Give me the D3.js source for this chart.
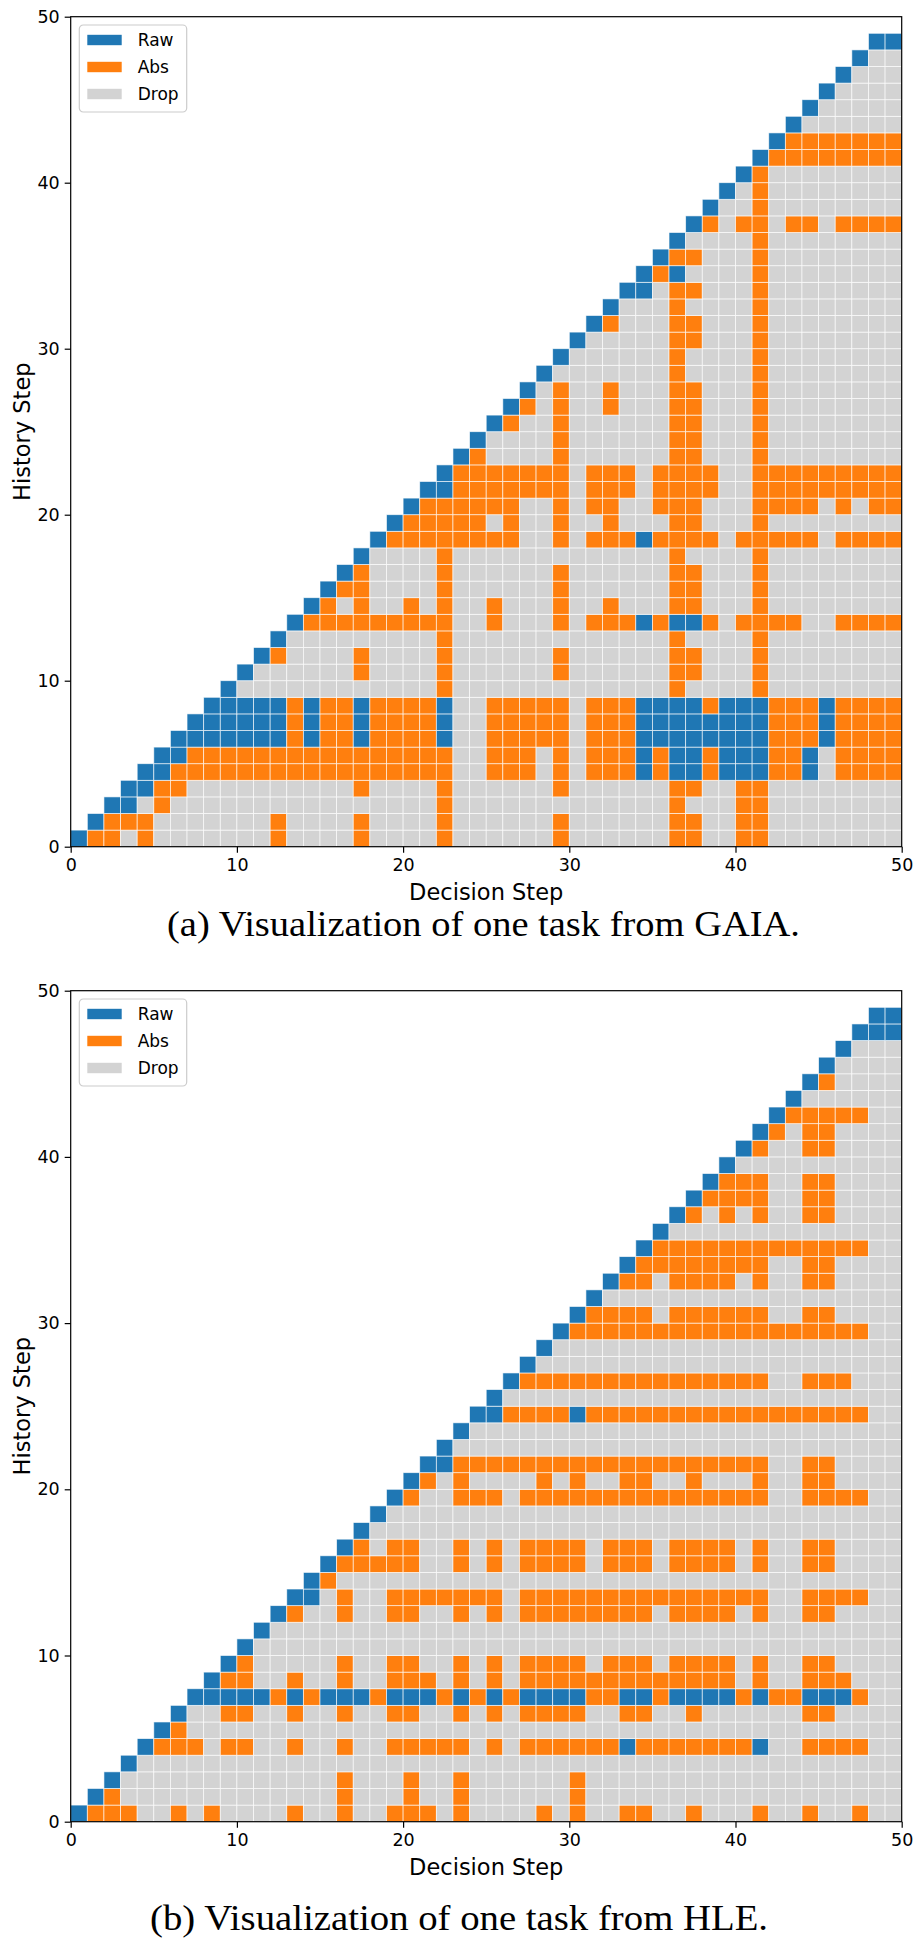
<!DOCTYPE html>
<html>
<head>
<meta charset="utf-8">
<script src="https://cdn.jsdelivr.net/npm/d3@7"></script>
<style>
body { margin: 0; background: #fff; }
</style>
</head>
<body>
<script>
const kinds = ["Raw", "Abs", "Drop"]
const kindCode = { R: "Raw", A: "Abs", D: "Drop" }
const colors = { Raw: "#1f77b4", Abs: "#ff7f0e", Drop: "#d3d3d3" }
const ticks = [0, 10, 20, 30, 40, 50]
const captions = ["(a) Visualization of one task from GAIA.", "(b) Visualization of one task from HLE."]

// one string per history step (row 0 at the bottom), one char per decision step 0..49
// R = Raw, A = Abs, D = Drop, . = no cell
const gaiaRows = [
    "RAADADDDDD DDADDDDADD DDADDDDDDA DDDDDDAADD AADDDDDDDD",
    ".RAAADDDDD DDADDDDADD DDADDDDDDA DDDDDDAADD AADDDDDDDD",
    "..RRDADDDD DDDDDDDDDD DDADDDDDDD DDDDDDADDD AADDDDDDDD",
    "...RRAADDD DDDDDDDADD DDADDDDDDA DDDDDDAADD AADDDDDDDD",
    "....RRAAAA AAAAAAAAAA AAADDAAADA DAAARARRAR RRAARDAAAA",
    ".....RRAAA AAAAAAAAAA AAADDAAADA DAAARARRAR RRAARDAAAA",
    "......RRRR RRRARAARAA AARDDAAAAA DAAARRRRRR RRAAARAAAA",
    ".......RRR RRRARAARAA AARDDAAAAA DAAARRRRRR RRAAARAAAA",
    "........RR RRRARAARAA AARDDAAAAA DAAARRRRAR RRAAARAAAA",
    ".........R DDDDDDDDDD DDADDDDDDD DDDDDDADDD DADDDDDDDD",
    ".......... RDDDDDDADD DDADDDDDDA DDDDDDAADD DADDDDDDDD",
    ".......... .RADDDDADD DDADDDDDDA DDDDDDAADD DADDDDDDDD",
    ".......... ..RDDDDDDD DDADDDDDDD DDDDDDADDD DADDDDDDDD",
    ".......... ...RAAAAAA AAADDADDDA DAAARARRAD AAAADDAAAA",
    ".......... ....RADADD ADADDADDDA DDADDDAADD DADDDDDDDD",
    ".......... .....RAADD DDADDDDDDA DDDDDDAADD DADDDDDDDD",
    ".......... ......RADD DDADDDDDDA DDDDDDAADD DADDDDDDDD",
    ".......... .......RDD DDADDDDDDD DDDDDDADDD DADDDDDDDD",
    ".......... ........RA AAAAAAADDA DAAARAAAAD AAAAADAAAA",
    ".......... .........R AAAAADADDA DDADDDAADD DADDDDDDDD",
    ".......... .......... RAAAAAADDA DAADDAAADD DAAAADADAA",
    ".......... .......... .RRAAAAAAA DAAADAAAAD DAAAAAAAAA",
    ".......... .......... ..RAAAAAAA DAAADAAAAD DAAAAAAAAA",
    ".......... .......... ...RADDDDA DDDDDDAADD DADDDDDDDD",
    ".......... .......... ....RDDDDA DDDDDDAADD DADDDDDDDD",
    ".......... .......... .....RADDA DDDDDDAADD DADDDDDDDD",
    ".......... .......... ......RADA DDADDDAADD DADDDDDDDD",
    ".......... .......... .......RDA DDADDDAADD DADDDDDDDD",
    ".......... .......... ........RD DDDDDDADDD DADDDDDDDD",
    ".......... .......... .........R DDDDDDADDD DADDDDDDDD",
    ".......... .......... .......... RDDDDDAADD DADDDDDDDD",
    ".......... .......... .......... .RADDDAADD DADDDDDDDD",
    ".......... .......... .......... ..RDDDADDD DADDDDDDDD",
    ".......... .......... .......... ...RRDAADD DADDDDDDDD",
    ".......... .......... .......... ....RARDDD DADDDDDDDD",
    ".......... .......... .......... .....RAADD DADDDDDDDD",
    ".......... .......... .......... ......RDDD DADDDDDDDD",
    ".......... .......... .......... .......RAD AADAADAAAA",
    ".......... .......... .......... ........RD DADDDDDDDD",
    ".......... .......... .......... .........R DADDDDDDDD",
    ".......... .......... .......... .......... RADDDDDDDD",
    ".......... .......... .......... .......... .RAAAAAAAA",
    ".......... .......... .......... .......... ..RAAAAAAA",
    ".......... .......... .......... .......... ...RDDDDDD",
    ".......... .......... .......... .......... ....RDDDDD",
    ".......... .......... .......... .......... .....RDDDD",
    ".......... .......... .......... .......... ......RDDD",
    ".......... .......... .......... .......... .......RDD",
    ".......... .......... .......... .......... ........RR"
]

const hleRows = [
    "RAAADDADAD DDDADDADDA AADADDDDAD ADDAADDADD DADDADDADD",
    ".RADDDDDDD DDDDDDADDD ADDADDDDDD ADDDDDDDDD DDDDDDDDDD",
    "..RDDDDDDD DDDDDDADDD ADDADDDDDD ADDDDDDDDD DDDDDDDDDD",
    "...RDDDDDD DDDDDDDDDD DDDDDDDDDD DDDDDDDDDD DDDDDDDDDD",
    "....RAAADA ADDADDADDA AAAADADAAA AAARAAAAAA ARDDAAAADD",
    ".....RADDD DDDDDDDDDD DDDDDDDDDD DDDDDDDDDD DDDDDDDDDD",
    "......RDDA ADDADDADDA ADDADADAAA ADDAADDADD DDDDAADDDD",
    ".......RRR RRARARRRAR RRARARARRR RAARRARRRR ARAARRRADD",
    "........RA ADDADDADDA AADADADAAA AAAAAAAAAA DADDAAADDD",
    ".........R ADDDDDADDA ADDADADAAA ADAAADAAAA DADDAADDDD",
    ".......... RDDDDDDDDD DDDDDDDDDD DDDDDDDDDD DDDDDDDDDD",
    ".......... .RDDDDDDDD DDDDDDDDDD DDDDDDDDDD DDDDDDDDDD",
    ".......... ..RADDADDA ADDADADAAA AAAAADAAAA DADDAADDDD",
    ".......... ...RRDADDA AAAAAADAAA AAAAAAAAAA AADDAAAADD",
    ".......... ....RADDDD DDDDDDDDDD DDDDDDDDDD DDDDDDDDDD",
    ".......... .....RAAAA ADDADADAAA ADAAADAAAA DADDAADDDD",
    ".......... ......RADA ADDADADAAA ADAAADAAAA DADDAADDDD",
    ".......... .......RDD DDDDDDDDDD DDDDDDDDDD DDDDDDDDDD",
    ".......... ........RD DDDDDDDDDD DDDDDDDDDD DDDDDDDDDD",
    ".......... .........R ADDAAADAAA AAAAAAAAAA AADDAAAADD",
    ".......... .......... RADADDDDAD ADDAADDADD DADDAADDDD",
    ".......... .......... .RRAAAAAAA AAAAAAAAAA AADDAADDDD",
    ".......... .......... ..RDDDDDDD DDDDDDDDDD DDDDDDDDDD",
    ".......... .......... ...RDDDDDD DDDDDDDDDD DDDDDDDDDD",
    ".......... .......... ....RRAAAA RAAAAAAAAA AAAAAAAADD",
    ".......... .......... .....RDDDD DDDDDDDDDD DDDDDDDDDD",
    ".......... .......... ......RAAA AAAAAAAAAA AADDAAADDD",
    ".......... .......... .......RDD DDDDDDDDDD DDDDDDDDDD",
    ".......... .......... ........RD DDDDDDDDDD DDDDDDDDDD",
    ".......... .......... .........R AAAAAAAAAA AAAAAAAADD",
    ".......... .......... .......... RAAAADAAAA AADDAADDDD",
    ".......... .......... .......... .RDDDDDDDD DDDDDDDDDD",
    ".......... .......... .......... ..RAADAAAA DADDAADDDD",
    ".......... .......... .......... ...RAAAAAA AADDAADDDD",
    ".......... .......... .......... ....RAAAAA AAAAAAAADD",
    ".......... .......... .......... .....RDDDD DDDDDDDDDD",
    ".......... .......... .......... ......RADA DADDAADDDD",
    ".......... .......... .......... .......RAA AADDAADDDD",
    ".......... .......... .......... ........RA AADDAADDDD",
    ".......... .......... .......... .........R DDDDDDDDDD",
    ".......... .......... .......... .......... RADDAADDDD",
    ".......... .......... .......... .......... .RADAADDDD",
    ".......... .......... .......... .......... ..RAAAAADD",
    ".......... .......... .......... .......... ...RDDDDDD",
    ".......... .......... .......... .......... ....RADDDD",
    ".......... .......... .......... .......... .....RDDDD",
    ".......... .......... .......... .......... ......RDDD",
    ".......... .......... .......... .......... .......RRR",
    ".......... .......... .......... .......... ........RR"
]

const W = 923, H = 1945
const left = 70.7, right = 901.7
const font = "'DejaVu Sans', sans-serif"

const panels = [
    { rows: gaiaRows, top: 16.7, bottom: 846.7, caption: captions[0], capX: 483.5, capY: 936, capLen: 633 },
    { rows: hleRows, top: 990.7, bottom: 1821.7, caption: captions[1], capX: 459, capY: 1930, capLen: 618 }
]

const svg = d3.select("body").append("svg")
    .attr("width", W)
    .attr("height", H)

panels.forEach(p => {
    const g = svg.append("g")
    const x = d3.scaleLinear().domain([0, 50]).range([left, right])
    const y = d3.scaleLinear().domain([0, 50]).range([p.bottom, p.top])

    // flatten row strings into cells
    const cells = []
    p.rows.forEach((s, h) => {
        s.replace(/ /g, "").split("").forEach((ch, d) => {
            if (ch !== ".") cells.push({ d: d, h: h, kind: kindCode[ch] })
        })
    })

    g.selectAll("rect.cell")
        .data(cells)
        .enter()
        .append("rect")
        .attr("class", "cell")
        .attr("x", c => x(c.d))
        .attr("y", c => y(c.h + 1))
        .attr("width", x(1) - x(0))
        .attr("height", y(0) - y(1))
        .style("fill", c => colors[c.kind])
        .style("stroke", "#fff")
        .style("stroke-width", 0.8)
        .style("stroke-opacity", 0.75)

    // axes
    const xAxis = g.append("g")
        .attr("transform", `translate(0,${p.bottom})`)
        .call(d3.axisBottom(x).tickValues(ticks).tickSize(6).tickPadding(6))
    const yAxis = g.append("g")
        .attr("transform", `translate(${left},0)`)
        .call(d3.axisLeft(y).tickValues(ticks).tickSize(6).tickPadding(5))
    ;[xAxis, yAxis].forEach(a => {
        a.select(".domain").remove()
        a.selectAll("line").style("stroke", "#000").style("stroke-width", 1.2)
        a.selectAll("text")
            .style("font-family", font)
            .style("font-size", "17.5px")
            .style("fill", "#000")
    })

    // frame
    g.append("rect")
        .attr("x", left)
        .attr("y", p.top)
        .attr("width", right - left)
        .attr("height", p.bottom - p.top)
        .style("fill", "none")
        .style("stroke", "#000")
        .style("stroke-width", 1.2)

    // axis titles
    g.append("text")
        .attr("x", (left + right) / 2)
        .attr("y", p.bottom + 53)
        .attr("text-anchor", "middle")
        .style("font-family", font)
        .style("font-size", "22.5px")
        .text("Decision Step")

    g.append("text")
        .attr("transform", `translate(30,${(p.top + p.bottom) / 2}) rotate(-90)`)
        .attr("text-anchor", "middle")
        .style("font-family", font)
        .style("font-size", "22.5px")
        .text("History Step")

    // legend
    const lg = g.append("g").attr("transform", `translate(${left + 8.6},${p.top + 8.3})`)
    lg.append("rect")
        .attr("width", 107.4)
        .attr("height", 87)
        .attr("rx", 4)
        .style("fill", "#fff")
        .style("fill-opacity", 0.8)
        .style("stroke", "#cccccc")
        .style("stroke-width", 1.2)
    kinds.forEach((k, i) => {
        const cy = 15 + i * 27
        lg.append("rect")
            .attr("x", 8)
            .attr("y", cy - 5.2)
            .attr("width", 34.4)
            .attr("height", 10.4)
            .style("fill", colors[k])
        lg.append("text")
            .attr("x", 58.4)
            .attr("y", cy + 6)
            .style("font-family", font)
            .style("font-size", "17px")
            .text(k)
    })

    // caption
    svg.append("text")
        .attr("x", p.capX)
        .attr("y", p.capY)
        .attr("text-anchor", "middle")
        .attr("textLength", p.capLen)
        .attr("lengthAdjust", "spacingAndGlyphs")
        .style("font-family", "'Liberation Serif', serif")
        .style("font-size", "35px")
        .text(p.caption)
})
</script>
</body>
</html>
